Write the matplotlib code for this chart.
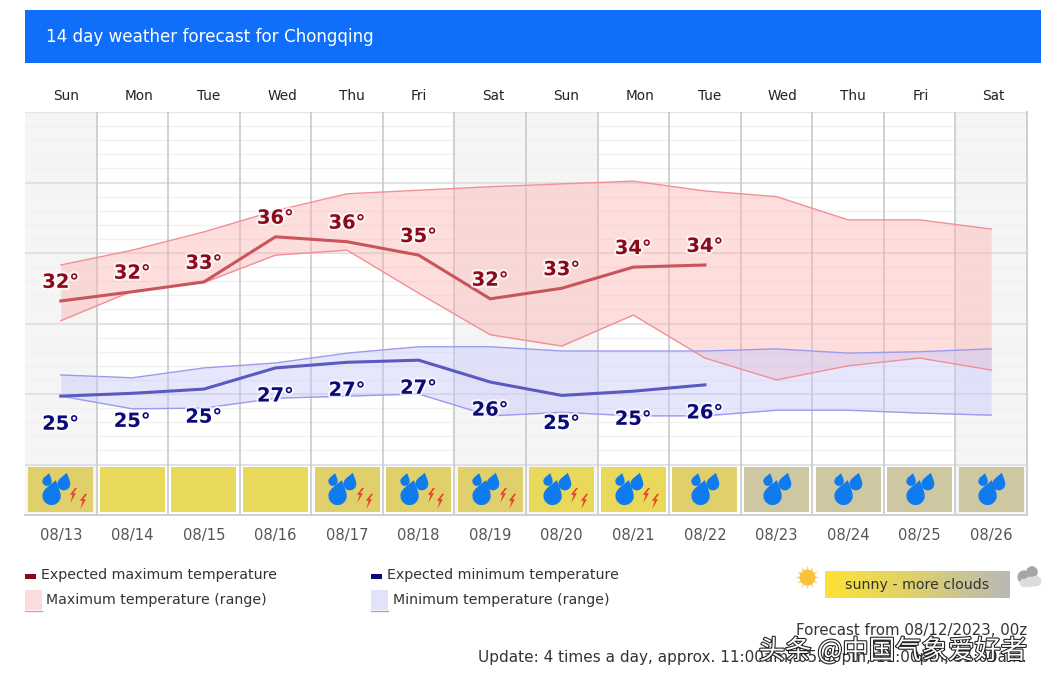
import numpy as np
import matplotlib
matplotlib.use("Agg")
import matplotlib.pyplot as plt
import matplotlib.patheffects as pe
from matplotlib.path import Path
from matplotlib.patches import Rectangle
from matplotlib.transforms import Affine2D
from matplotlib.colors import LinearSegmentedColormap

dates = ['08/13', '08/14', '08/15', '08/16', '08/17', '08/18', '08/19',
         '08/20', '08/21', '08/22', '08/23', '08/24', '08/25', '08/26']
weekdays = ['Sun', 'Mon', 'Tue', 'Wed', 'Thu', 'Fri', 'Sat',
            'Sun', 'Mon', 'Tue', 'Wed', 'Thu', 'Fri', 'Sat']

max_high = [34.15, 35.2, 36.5, 38.0, 39.2, 39.45, 39.7, 39.9, 40.1, 39.4, 39.0, 37.35, 37.35, 36.7]
max_low = [30.2, 32.3, 32.9, 34.85, 35.2, 32.15, 29.2, 28.4, 30.6, 27.55, 26.0, 27.0, 27.55, 26.7]
max_expected = [31.6, 32.25, 32.95, 36.15, 35.8, 34.85, 31.75, 32.5, 34.0, 34.15]
max_labels = [32, 32, 33, 36, 36, 35, 32, 33, 34, 34]

min_high = [26.35, 26.15, 26.85, 27.2, 27.9, 28.35, 28.35, 28.05, 28.05, 28.05, 28.2, 27.9, 28.0, 28.2]
min_low = [24.85, 23.95, 24.0, 24.7, 24.85, 25.0, 23.45, 23.7, 23.45, 23.45, 23.85, 23.85, 23.65, 23.5]
min_expected = [24.85, 25.05, 25.35, 26.85, 27.25, 27.4, 25.85, 24.9, 25.2, 25.65]
min_labels = [25, 25, 25, 27, 27, 27, 26, 25, 25, 26]

cell_colors = ['#dfd06c', '#e9d95a', '#e9d95a', '#e9d95a', '#dfd06c', '#dfd06c', '#dfd06c',
               '#e9d95a', '#e9d95a', '#dfd06c', '#cec8a2', '#cec8a2', '#cec8a2', '#cec8a2']
rain_days = [0, 4, 5, 6, 7, 8, 9, 10, 11, 12, 13]
storm_days = [0, 4, 5, 6, 7, 8]
weekend_days = [0, 6, 7, 13]

# pixel helpers, the page is laid out in screen pixels
W, H = 1046, 684
def fx(px):
    return px / W
def fy(py):
    return 1 - py / H

plt.rcParams['font.family'] = ['DejaVu Sans']
body = 10.2

fig = plt.figure(figsize=(W / 100, H / 100), dpi=100, facecolor='white')

# banner
fig.add_artist(Rectangle((fx(25), fy(63)), fx(1041) - fx(25), fy(10) - fy(63),
                         transform=fig.transFigure, color='#0f6ffa', lw=0))
fig.text(fx(46), fy(36.5), '14 day weather forecast for Chongqing', color='white',
         fontsize=12.1, va='center', ha='left')

# weekday names sit a bit off the day centres in the original
weekday_px = [66, 139, 209, 282, 352, 419, 493, 566, 640, 710, 782, 853, 921, 993]
for name, px in zip(weekdays, weekday_px):
    fig.text(fx(px), fy(96.5), name, color='#222222', fontsize=9.8, ha='center', va='center')

# main plot
ax = fig.add_axes([fx(25), fy(515), fx(1027) - fx(25), fy(112) - fy(515)])
ax.set_xlim(-0.5, 13.5)
ax.set_ylim(16.42, 45)
ax.set_facecolor('white')
ax.set_xticks([])
ax.set_yticks([])
for s in ['top', 'left']:
    ax.spines[s].set_visible(False)
for s in ['bottom', 'right']:
    ax.spines[s].set_color('#cfcfd6')
    ax.spines[s].set_linewidth(1.4)

days = np.arange(14)

for d in weekend_days:
    ax.axvspan(d - 0.5, d + 0.5, ymin=0, ymax=1, color='#f5f5f5', lw=0, zorder=0)

for t in range(21, 45):
    ax.axhline(t, color='#f1f1f1', lw=1, zorder=1)
for t in range(20, 45, 5):
    ax.axhline(t, color='#dedede', lw=1.2, zorder=1)
ax.axhline(45, color='#e6e6e6', lw=1, zorder=1)
for d in days[:-1]:
    ax.axvline(d + 0.5, color='#c9c9c9', lw=1.2, zorder=1)

# range bands
ax.fill_between(days, max_low, max_high, color='#fdb4b4', alpha=0.45, lw=0, zorder=2)
ax.plot(days, max_high, color='#f28f96', lw=1.0, zorder=3)
ax.plot(days, max_low, color='#f28f96', lw=1.0, zorder=3)
ax.fill_between(days, min_low, min_high, color='#c8c8fc', alpha=0.45, lw=0, zorder=2)
ax.plot(days, min_high, color='#9a9aee', lw=1.0, zorder=3)
ax.plot(days, min_low, color='#9a9aee', lw=1.0, zorder=3)

# expected lines
ax.plot(days[:10], max_expected, color='#c9545c', lw=2.2, zorder=4, solid_joinstyle='miter')
ax.plot(days[:10], min_expected, color='#5a5ac0', lw=2.2, zorder=4, solid_joinstyle='miter')

halo = [pe.withStroke(linewidth=3, foreground='white', alpha=0.7)]
for d, v, lab in zip(days, max_expected, max_labels):
    ax.annotate('%d°' % lab, (d, v), xytext=(0, 13.4), textcoords='offset points',
                ha='center', va='center', color='#8a0a1c', fontsize=14,
                fontweight='bold', path_effects=halo, zorder=6)
for d, v, lab in zip(days, min_expected, min_labels):
    ax.annotate('%d°' % lab, (d, v), xytext=(0, -20.2), textcoords='offset points',
                ha='center', va='center', color='#0a0a78', fontsize=14,
                fontweight='bold', path_effects=halo, zorder=6)

# weather strip
for d, c in zip(days, cell_colors):
    ax.add_patch(Rectangle((d - 0.455, 16.6), 0.91, 3.2, facecolor=c, edgecolor='none', zorder=2))

drop = Path([(0, 1.0), (0.3, 0.55), (0.72, 0.15), (0.72, -0.28),
             (0.72, -0.68), (0.4, -1.0), (0, -1.0),
             (-0.4, -1.0), (-0.72, -0.68), (-0.72, -0.28),
             (-0.72, 0.15), (-0.3, 0.55), (0, 1.0), (0, 1.0)],
            [Path.MOVETO] + [Path.CURVE4] * 12 + [Path.CLOSEPOLY])
drop = drop.transformed(Affine2D().rotate_deg(-15))
bolt = Path([(0.35, 1), (-0.35, 0.1), (0.02, 0.1), (-0.3, -1), (0.45, 0.3), (0.08, 0.3), (0.62, 1), (0.35, 1)],
            [Path.MOVETO] + [Path.LINETO] * 6 + [Path.CLOSEPOLY])

rain = np.array(rain_days, dtype=float)
storm = np.array(storm_days, dtype=float)
shift = np.where(np.isin(rain_days, storm_days), -0.12, -0.05)
ax.scatter(rain + shift, np.full(len(rain), 18.05), marker=drop, s=385, color='#0f7bef', lw=0, zorder=5)
ax.scatter(rain + shift - 0.07, np.full(len(rain), 18.95), marker=drop, s=100, color='#0f7bef', lw=0, zorder=5)
ax.scatter(rain + shift + 0.165, np.full(len(rain), 18.8), marker=drop, s=190, color='#0f7bef', lw=0, zorder=5)
ax.scatter(storm + 0.16, np.full(len(storm), 17.84), marker=bolt, s=120, color='#e8402a', lw=0, zorder=5)
ax.scatter(storm + 0.29, np.full(len(storm), 17.4), marker=bolt, s=120, color='#e8402a', lw=0, zorder=5)

# date labels
for d, name in zip(days, dates):
    ax.annotate(name, (d, 16.42), xytext=(0, -14.6), textcoords='offset points',
                ha='center', va='center', color='#555555', fontsize=10.6, annotation_clip=False)

# legend
fig.add_artist(Rectangle((fx(25), fy(578.5)), 11 / W, 4.5 / H, transform=fig.transFigure,
                         color='#8a0a1c', lw=0))
fig.text(fx(41), fy(575), 'Expected maximum temperature', color='#333333', fontsize=body, va='center')
fig.add_artist(Rectangle((fx(25), fy(610)), 17 / W, 20 / H, transform=fig.transFigure,
                         facecolor='#fbdcdc', edgecolor='none'))
fig.add_artist(plt.Line2D([fx(25), fx(42)], [fy(610.5)] * 2, transform=fig.transFigure, color='#f28f96', lw=0.9))
fig.text(fx(46), fy(600), 'Maximum temperature (range)', color='#333333', fontsize=body, va='center')

fig.add_artist(Rectangle((fx(371), fy(578.5)), 11 / W, 4.5 / H, transform=fig.transFigure,
                         color='#0a0a78', lw=0))
fig.text(fx(387), fy(575), 'Expected minimum temperature', color='#333333', fontsize=body, va='center')
fig.add_artist(Rectangle((fx(371), fy(610)), 17 / W, 20 / H, transform=fig.transFigure,
                         facecolor='#e2e2fa', edgecolor='none'))
fig.add_artist(plt.Line2D([fx(371), fx(388)], [fy(610.5)] * 2, transform=fig.transFigure, color='#9a9aee', lw=0.9))
fig.text(fx(393), fy(600), 'Minimum temperature (range)', color='#333333', fontsize=body, va='center')

# sunny - more clouds key
key = fig.add_axes([fx(825), fy(598), 185 / W, 27 / H])
key.axis('off')
key_cmap = LinearSegmentedColormap.from_list('key', ['#ffe234', '#dcd070', '#b8b8b8'])
key.imshow(np.linspace(0, 1, 256).reshape(1, -1), aspect='auto', cmap=key_cmap)
key.text(0.5, 0.48, 'sunny - more clouds', transform=key.transAxes, ha='center', va='center',
         color='#333333', fontsize=body)

icons = fig.add_axes([0, 0, 1, 1], facecolor='none')
icons.set_xlim(0, W)
icons.set_ylim(H, 0)
icons.axis('off')
icons.scatter([807], [577], marker=(12, 1, 0), s=300, color='#fbd36a', lw=0)
icons.scatter([807], [577], marker='o', s=130, color='#f8c23e', lw=0)
icons.scatter([1024, 1032, 1029], [577, 572, 578], marker='o', s=[90, 70, 90], color='#a6a6a6', lw=0)
icons.scatter([1030, 1036, 1024], [582, 581, 583], marker='o', s=[60, 60, 40], color='#dcdcdc', lw=0)

# footer
fig.text(fx(1027), fy(630.5), 'Forecast from 08/12/2023, 00z', color='#333333', fontsize=10.8,
         ha='right', va='center')
fig.text(fx(1027), fy(657.5), 'Update: 4 times a day, approx. 11:00am, 05:00pm, 11:00pm, 05:00am.',
         color='#333333', fontsize=11, ha='right', va='center')

# watermark
fig.text(fx(1027), fy(651), '头条 @中国气象爱好者', family=['Noto Sans CJK SC', 'DejaVu Sans'],
         color='white', fontsize=19, ha='right', va='center',
         path_effects=[pe.withStroke(linewidth=1.6, foreground='#222222')])

fig.savefig('out.png', dpi=100)
